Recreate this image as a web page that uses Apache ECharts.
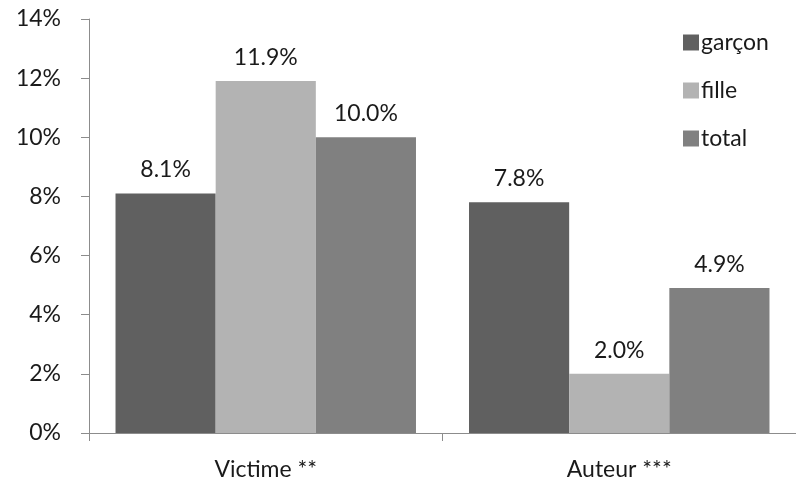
<!DOCTYPE html>
<html><head><meta charset="utf-8">
<script src="https://cdn.jsdelivr.net/npm/echarts@6/dist/echarts.min.js"></script>
<style>html,body{margin:0;padding:0;background:#fff}#c{width:796px;height:483px}</style>
</head><body><div id="c"></div>
<script>
const categories = ['Victime **', 'Auteur ***'];
const garcon = [8.1, 7.8];
const fille = [11.9, 2.0];
const total = [10.0, 4.9];
const seriesNames = ['garçon', 'fille', 'total'];
const colors = ['#606060', '#b3b3b3', '#808080'];
const FONT = 'Lato';
const FS = 23;
const chart = echarts.init(document.getElementById('c'));
const lbl = {show: true, position: 'top', distance: 12, color: '#1a1a1a', fontSize: FS, fontFamily: FONT,
  formatter: p => p.value.toFixed(1) + '%'};
const data = [garcon, fille, total];
chart.setOption({
  animation: false,
  textStyle: {fontFamily: FONT},
  grid: {left: 89, right: 0, top: 19, bottom: 50, containLabel: false},
  legend: {orient: 'vertical', left: 678, top: 26, itemWidth: 16, itemHeight: 16, itemGap: 25, icon: 'rect',
    textStyle: {fontSize: FS, color: '#1a1a1a', fontFamily: FONT, padding: [0, 0, 0, -3]},
    data: seriesNames},
  xAxis: {type: 'category', data: categories,
    axisLine: {lineStyle: {color: '#8c8c8c', width: 1}},
    axisTick: {show: true, length: 8, lineStyle: {color: '#8c8c8c'}},
    axisLabel: {color: '#1a1a1a', fontSize: FS, fontFamily: FONT, margin: 25}},
  yAxis: {type: 'value', min: 0, max: 14, interval: 2,
    axisLine: {show: true, lineStyle: {color: '#8c8c8c', width: 1}},
    axisTick: {show: true, length: 8, lineStyle: {color: '#8c8c8c'}},
    splitLine: {show: false},
    axisLabel: {color: '#1a1a1a', fontSize: FS, fontFamily: FONT, margin: 28, formatter: v => v + '%'}},
  series: seriesNames.map((n, i) => ({
    name: n, type: 'bar', data: data[i], barGap: '0%', barCategoryGap: '15%',
    itemStyle: {color: colors[i]}, label: lbl
  }))
});
</script></body></html>
